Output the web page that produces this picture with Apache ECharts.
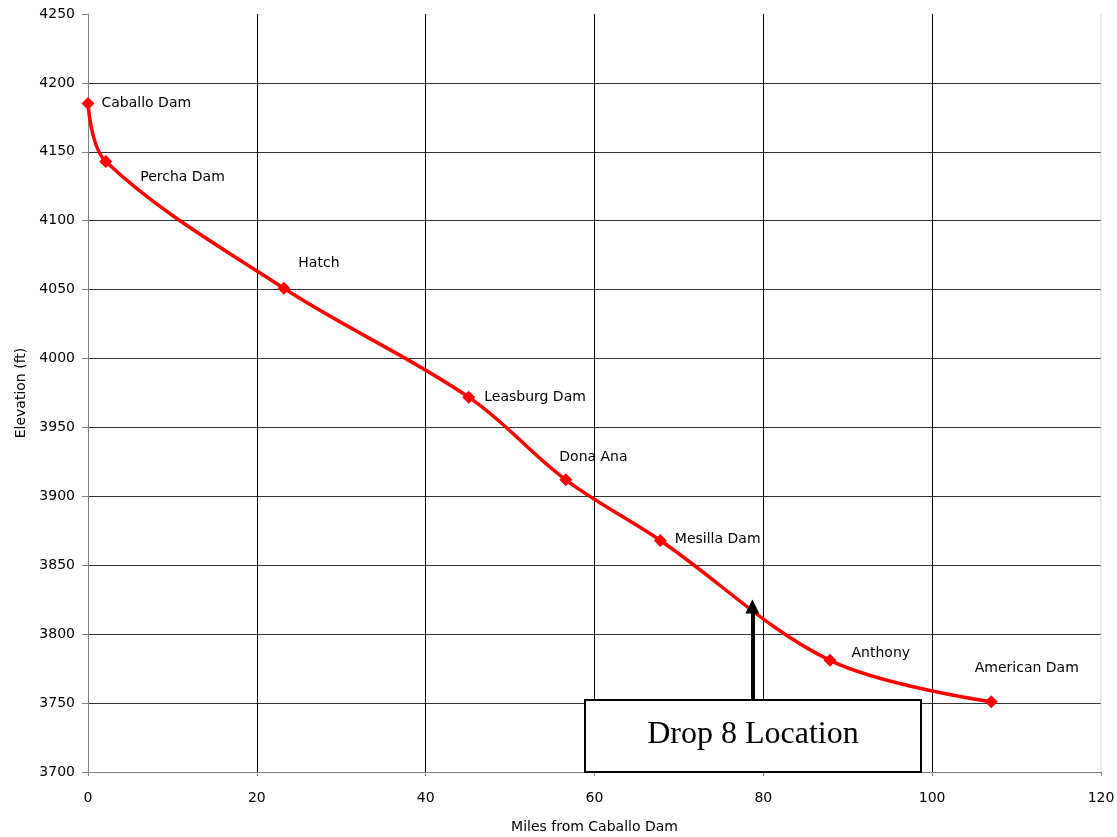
<!DOCTYPE html>
<html>
<head>
<meta charset="utf-8">
<script src="https://cdn.jsdelivr.net/npm/echarts@6/dist/echarts.min.js"></script>
<style>
  html, body { margin: 0; padding: 0; background: #fff; }
  #chart { width: 1117px; height: 837px; }
</style>
</head>
<body>
<div id="chart"></div>
<script>
// River profile stations
const stations = ['Caballo Dam', 'Percha Dam', 'Hatch', 'Leasburg Dam', 'Dona Ana', 'Mesilla Dam', 'Anthony', 'American Dam'];
const miles = [0, 2.1, 23.2, 45.1, 56.6, 67.8, 87.9, 107.0];
const elevations = [4185, 4143, 4051, 3972, 3912, 3868, 3781, 3751];

// Drop 8 marker
const dropMile = 78.7;
const dropFrom = 3752;
const dropTo = 3820;
const dropText = 'Drop 8 Location';

// Axis ranges
const xRange = [0, 120, 20];
const yRange = [3700, 4250, 50];

// Label nudges (px) from the default right-hand placement
const labelOffsets = [[2, 0], [23, 16], [3, -25], [4, 0], [-18, -22], [3, -1], [10, -7], [-28, -33]];

const font = 'DejaVu Sans, Verdana, sans-serif';

const seriesData = stations.map((n, i) => ({
  value: [miles[i], elevations[i]],
  name: n,
  label: { offset: labelOffsets[i] }
}));

const chart = echarts.init(document.getElementById('chart'));
chart.setOption({
  animation: false,
  grid: { left: 88, right: 16, top: 14, bottom: 65, outerBoundsMode: 'none', containLabel: false },
  xAxis: {
    type: 'value',
    min: xRange[0], max: xRange[1], interval: xRange[2],
    name: 'Miles from Caballo Dam',
    nameLocation: 'middle', nameGap: 48,
    nameTextStyle: { fontFamily: font, fontSize: 14, color: '#000' },
    axisLine: { show: true, lineStyle: { color: '#808080', width: 1 } },
    axisTick: { show: true, length: 4, lineStyle: { color: '#808080' } },
    axisLabel: { fontFamily: font, fontSize: 14, color: '#000', margin: 19, formatter: v => String(v) },
    splitLine: { show: true, showMinLine: false, showMaxLine: false, lineStyle: { color: '#000', width: 1 } }
  },
  yAxis: {
    type: 'value',
    min: yRange[0], max: yRange[1], interval: yRange[2],
    name: 'Elevation (ft)',
    nameLocation: 'middle', nameGap: 60, nameRotate: 90,
    nameTextStyle: { fontFamily: font, fontSize: 14, color: '#000' },
    axisLine: { show: true, lineStyle: { color: '#808080', width: 1 } },
    axisTick: { show: true, length: 6, lineStyle: { color: '#808080' } },
    axisLabel: { fontFamily: font, fontSize: 14, color: '#000', margin: 13, formatter: v => String(v) },
    splitLine: { show: true, showMinLine: false, showMaxLine: false, lineStyle: { color: '#333333', width: 1 } }
  },
  series: [{
    type: 'line',
    data: seriesData,
    smooth: 0.35,
    symbol: 'diamond',
    symbolSize: 13,
    lineStyle: { color: '#ff0000', width: 3.5 },
    itemStyle: { color: '#ff0000' },
    label: {
      show: true,
      position: 'right',
      distance: 5,
      formatter: p => p.name,
      fontFamily: font, fontSize: 14, color: '#000'
    },
    markLine: {
      silent: true,
      symbol: ['none', 'triangle'],
      symbolSize: [14, 14],
      label: { show: false },
      lineStyle: { color: '#000', width: 4, type: 'solid' },
      data: [[
        { coord: [dropMile, dropFrom] },
        { coord: [dropMile, dropTo] }
      ]]
    },
    z: 3
  }],
  graphic: [{
    // light frame on the right edge of the plot
    type: 'line',
    z: 1,
    shape: { x1: 1101, y1: 14, x2: 1101, y2: 772 },
    style: { stroke: '#d4d4d4', lineWidth: 1 }
  }, {
    // caption box under the arrow
    type: 'rect',
    z: 100,
    shape: { x: 585, y: 700, width: 336, height: 72 },
    style: { fill: '#ffffff', stroke: '#000', lineWidth: 2 }
  }, {
    type: 'text',
    z: 101,
    x: 753, y: 735,
    style: {
      text: dropText,
      fontFamily: 'Liberation Serif, Times New Roman, serif',
      fontSize: 32, fill: '#000',
      align: 'center', verticalAlign: 'middle'
    }
  }]
});
</script>
</body>
</html>
